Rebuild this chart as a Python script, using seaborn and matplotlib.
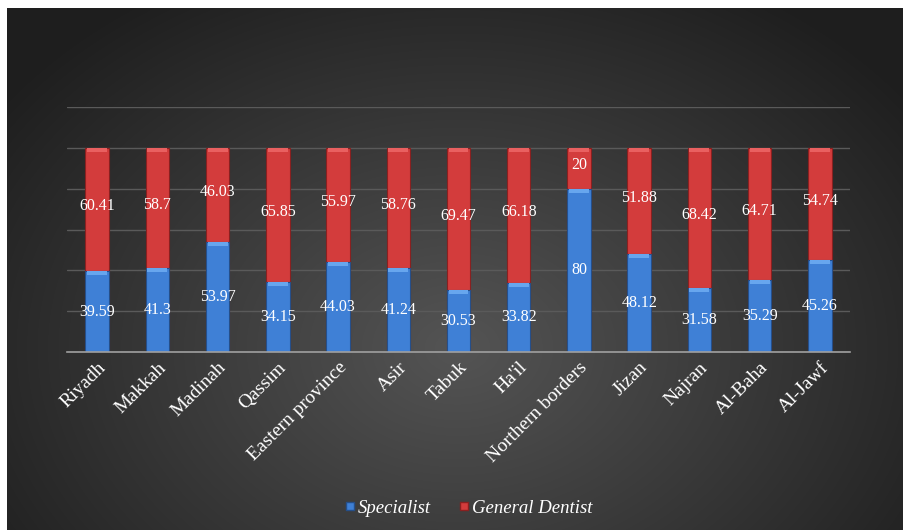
import numpy as np
import pandas as pd
import matplotlib
matplotlib.use("Agg")
import matplotlib.pyplot as plt
import seaborn as sns
from matplotlib.lines import Line2D

regions = ["Riyadh", "Makkah", "Madinah", "Qassim", "Eastern province", "Asir", "Tabuk",
           "Ha'il", "Northern borders", "Jizan", "Najran", "Al-Baha", "Al-Jawf"]
specialist = [39.59, 41.3, 53.97, 34.15, 44.03, 41.24, 30.53, 33.82, 80, 48.12, 31.58, 35.29, 45.26]
general = [60.41, 58.7, 46.03, 65.85, 55.97, 58.76, 69.47, 66.18, 20, 51.88, 68.42, 64.71, 54.74]
series_names = ["Specialist", "General Dentist"]

BLUE = "#3f80d6"
RED = "#d33c3c"

sns.set_theme(style="dark")
plt.rcParams['font.family'] = ['Liberation Serif', 'DejaVu Serif']

W, H = 904, 530
fig = plt.figure(figsize=(W / 100, H / 100), dpi=100)
fig.patch.set_facecolor("white")

# background panel with radial gradient
bg = fig.add_axes([7 / W, 0, 1 - 7 / W, 1 - 8 / H])
bg.set_axis_off()
yy, xx = np.mgrid[0:522, 0:897]
cx, cy = 450, 340
r = np.sqrt(((xx - cx) / 560.0) ** 2 + ((yy - cy) / 420.0) ** 2)
val = np.clip(0.33 - 0.21 * r, 0.12, 0.35)
img = np.dstack([val, val, val])
bg.imshow(img, aspect="auto", extent=[0, 1, 0, 1], origin="upper")
bg.set_xlim(0, 1)
bg.set_ylim(0, 1)

ax = fig.add_axes([67 / W, 1 - 352 / H, (850 - 67) / W, (352 - 107) / H])
ax.patch.set_alpha(0)

df = pd.DataFrame({"Region": regions, "Specialist": specialist, "General": general})
df["Total"] = df["Specialist"] + df["General"]

BW = 0.39
sns.barplot(data=df, x="Region", y="Total", color=RED, saturation=1, width=BW,
            edgecolor="#8a2020", linewidth=0.8, ax=ax, zorder=3)
sns.barplot(data=df, x="Region", y="Specialist", color=BLUE, saturation=1, width=BW,
            edgecolor="#254f8a", linewidth=0.8, ax=ax, zorder=4)

# soft bevel highlights at the top of each segment
xs = np.arange(len(regions))
ax.bar(xs, [2.0] * len(xs), bottom=df["Total"] - 2.0, width=BW * 0.85, color="#e96060",
       linewidth=0, zorder=5)
ax.bar(xs, [2.0] * len(xs), bottom=df["Specialist"] - 2.0, width=BW * 0.85, color="#67a6ee",
       linewidth=0, zorder=5)

ax.set_ylim(0, 120)
ax.set_xlim(-0.5, len(regions) - 0.5)
ax.set_yticks(np.arange(0, 121, 20))
ax.set_yticklabels([])
ax.tick_params(axis="y", length=0)
ax.grid(axis="y", color="#5a5a5a", linewidth=1.0, zorder=0)
ax.grid(axis="x", visible=False)
for s in ["top", "right", "left"]:
    ax.spines[s].set_visible(False)
ax.spines["bottom"].set_color("#a0a0a0")
ax.spines["bottom"].set_linewidth(1.2)
ax.spines["bottom"].set_zorder(6)

ax.set_xlabel("")
ax.set_ylabel("")
ax.set_xticks(range(len(regions)))
ax.set_xticklabels(regions, rotation=45, ha="right", rotation_mode="anchor",
                   color="white", fontsize=14)
ax.tick_params(axis="x", which="major", length=0, pad=5)
ax.set_xticks(np.arange(-0.5, len(regions), 1), minor=True)
ax.tick_params(axis="x", which="minor", length=6, width=1.2, color="#a0a0a0", direction="out")

for i, (s, g) in enumerate(zip(specialist, general)):
    ax.text(i, s / 2, f"{s:g}", ha="center", va="center", color="white", fontsize=11.5, zorder=7)
    ax.text(i, s + g / 2 + 1.5, f"{g:g}", ha="center", va="center", color="white", fontsize=11.5, zorder=7)

handles = [Line2D([], [], marker="s", linestyle="", markersize=5.5, markerfacecolor=BLUE,
                  markeredgecolor="#254f8a"),
           Line2D([], [], marker="s", linestyle="", markersize=5.5, markerfacecolor=RED,
                  markeredgecolor="#8a2020")]
leg = fig.legend(handles, series_names, loc="center", bbox_to_anchor=(0.515, 1 - 508 / H),
                 ncol=2, frameon=False, handletextpad=-0.2, columnspacing=1.2, handlelength=1.2,
                 prop={"family": "Liberation Serif", "style": "italic", "size": 13.5})
for t in leg.get_texts():
    t.set_color("white")

fig.savefig("out.png", dpi=100, facecolor=fig.get_facecolor())
